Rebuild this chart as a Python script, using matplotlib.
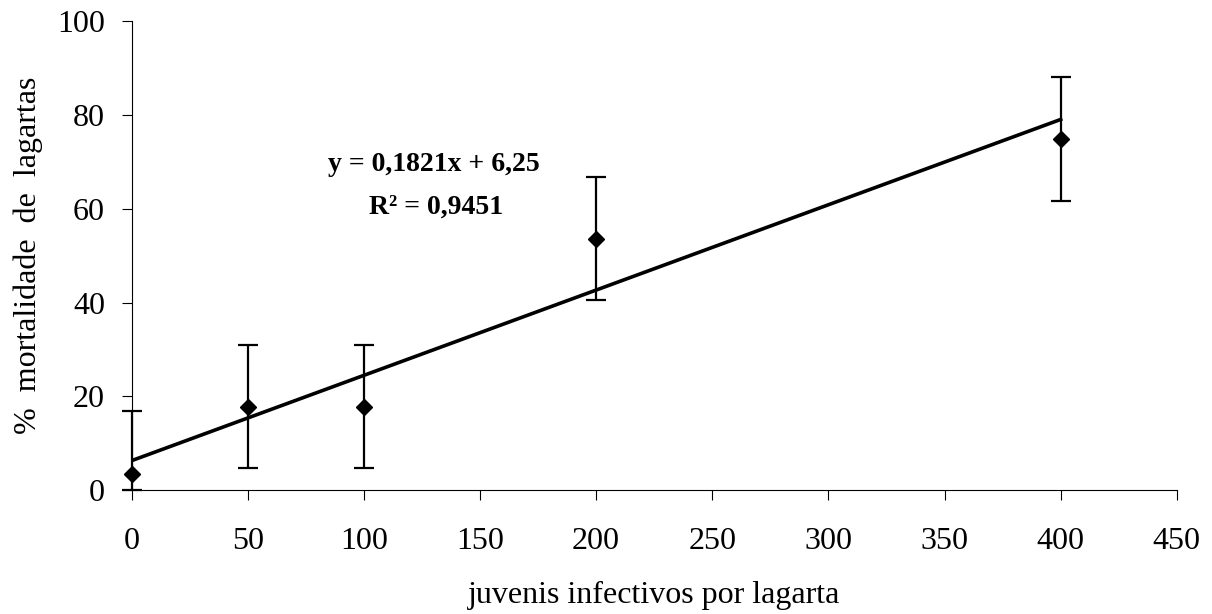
import numpy as np
import matplotlib
matplotlib.use("Agg")
import matplotlib.pyplot as plt

plt.rcParams["font.family"] = ["Liberation Serif", "DejaVu Serif"]

juvenis = [0, 50, 100, 200, 400]
mortalidade = [3.4, 17.8, 17.8, 53.6, 74.9]
erro = [13.5, 13.2, 13.2, 13.1, 13.2]

inclinacao = 0.1821
intercepto = 6.25

fig = plt.figure(figsize=(12.12, 6.14), dpi=100)
ax = fig.add_axes([0.1085, 0.202, 0.8625, 0.763])

# barra inferior cortada no zero, como no grafico original
erro_baixo = np.minimum(erro, mortalidade)
ax.errorbar(juvenis, mortalidade, yerr=[erro_baixo, erro], fmt="D", color="black",
            ms=8, elinewidth=1.6, capsize=7, capthick=1.6, zorder=3, clip_on=False)

x_linha = np.array([min(juvenis), max(juvenis)])
ax.plot(x_linha, inclinacao * x_linha + intercepto, color="black", lw=2.6, zorder=2)

ax.text(130, 69.4, "y = 0,1821x + 6,25", ha="center", va="center",
        fontsize=20, fontweight="bold")
ax.text(131, 60.3, "R² = 0,9451", ha="center", va="center",
        fontsize=20, fontweight="bold")

ax.set_xlim(0, 450)
ax.set_ylim(0, 100)
ax.set_xticks(range(0, 451, 50))
ax.set_yticks(range(0, 101, 20))
ax.spines["top"].set_visible(False)
ax.spines["right"].set_visible(False)
for s in ["left", "bottom"]:
    ax.spines[s].set_linewidth(0.8)
ax.tick_params(direction="out", length=7, width=0.8, labelsize=23)
ax.tick_params(axis="x", pad=20)
ax.tick_params(axis="y", pad=12)

ax.set_xlabel("juvenis infectivos por lagarta", fontsize=23, labelpad=18)
ax.set_ylabel("%  mortalidade  de  lagartas", fontsize=23, labelpad=10)

fig.savefig("out.png", dpi=100)
